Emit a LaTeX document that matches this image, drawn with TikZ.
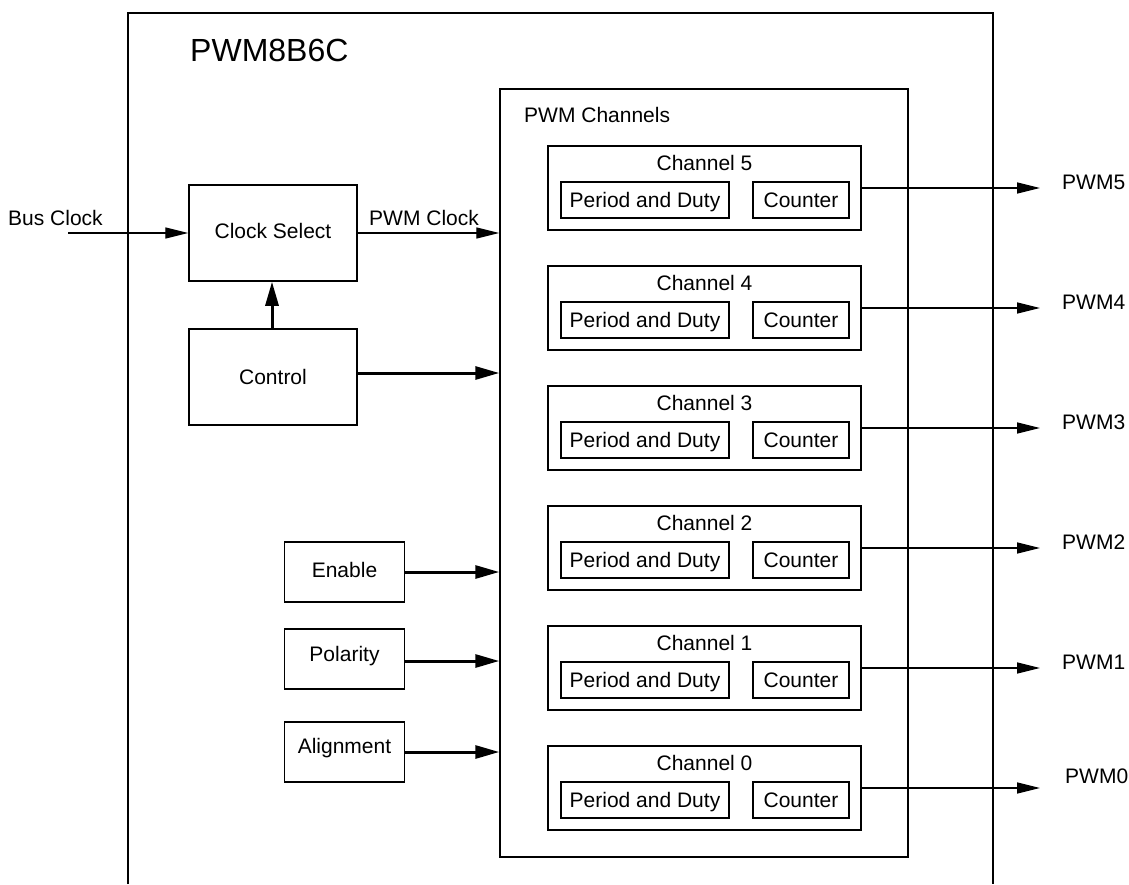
\documentclass[tikz,border=0pt]{standalone}
\usepackage{fontspec}
\setmainfont{Liberation Sans}
\usetikzlibrary{arrows.meta}
\tikzset{
  txt/.style={font=\fontsize{21}{25}\selectfont, inner sep=0pt, text height=15pt, text depth=0pt},
  bigtxt/.style={font=\fontsize{32}{36}\selectfont, inner sep=0pt, text height=23pt, text depth=0pt},
  blk/.style={draw, line width=1.5pt, inner sep=0pt, font=\fontsize{21}{25}\selectfont, text height=15pt, text depth=0pt},
  thin arrow/.style={line width=1.4pt, -{Triangle[length=23pt,width=11pt]}},
  thick arrow/.style={line width=3pt, -{Triangle[length=24pt,width=13pt]}},
}
\begin{document}
\begin{tikzpicture}[x=1pt,y=-1pt]
\useasboundingbox (0,0) rectangle (1129,884);
\fill[white] (0,0) rectangle (1129,884);
% outer module box (bottom edge outside the picture)
\draw[line width=1.5pt] (128,884) -- (128,13) -- (993,13) -- (993,884);
\node[bigtxt, anchor=west] (title) at (190,50) {PWM8B6C};

% PWM channels container
\node[blk, minimum width=408pt, minimum height=768pt] (pch) at (704,473) {};
\node[txt, anchor=west] (pchlbl) at (524,114.5) {PWM Channels};

% channels
\foreach \i/\t in {5/146,4/266,3/386,2/506,1/626,0/746}{
  \node[blk, minimum width=313pt, minimum height=84pt] (ch\i) at (704.5,\t+42) {};
  \node[txt] (chl\i) at (704.5,\t+17) {Channel \i};
  \node[blk, minimum width=168pt, minimum height=36pt] (pd\i) at (645,\t+54) {Period and Duty};
  \node[blk, minimum width=96pt, minimum height=36pt] (cnt\i) at (801,\t+54) {Counter};
  \coordinate (out\i) at (1040,\t+42);
  \draw[thin arrow] (ch\i.east) -- (out\i);
}
\node[txt, anchor=west] (p5) at (1062,182) {PWM5};
\node[txt, anchor=west] (p4) at (1062,302) {PWM4};
\node[txt, anchor=west] (p3) at (1062,422) {PWM3};
\node[txt, anchor=west] (p2) at (1062,542) {PWM2};
\node[txt, anchor=west] (p1) at (1062,662) {PWM1};
\node[txt, anchor=west] (p0) at (1065,776) {PWM0};

% clock select and control
\node[blk, minimum width=168pt, minimum height=96pt] (cs) at (273,233) {};
\node[txt] (cslbl) at (273,230.5) {Clock Select};
\node[blk, minimum width=168pt, minimum height=96pt] (ctrl) at (273,377) {Control};
\coordinate (bus) at (68,233);
\node[txt, anchor=west] (buslbl) at (8,217.5) {Bus Clock};
\node[txt, anchor=west] (pwmclk) at (369,217.5) {PWM Clock};
\draw[thin arrow] (bus) -- (cs.west);
\draw[thin arrow] (cs.east) -- (pch.west |- cs.east);
\draw[thick arrow] (ctrl.north -| 272,0) -- (cs.south -| 272,0);
\draw[thick arrow] (ctrl.east |- 0,373) -- (pch.west |- 0,373);

% enable, polarity, alignment
\node[blk, minimum width=120pt, minimum height=60pt] (en) at (344.5,572) {};
\node[txt] (enlbl) at (344.5,570) {Enable};
\node[blk, minimum width=120pt, minimum height=60pt] (pol) at (344.5,659) {};
\node[txt] (pollbl) at (344.5,653.5) {Polarity};
\node[blk, minimum width=120pt, minimum height=60pt] (al) at (344.5,752) {};
\node[txt] (allbl) at (344.5,745.5) {Alignment};
\draw[thick arrow] (en.east) -- (pch.west |- en.east);
\draw[thick arrow] (pol.east |- 0,661) -- (pch.west |- 0,661);
\draw[thick arrow] (al.east) -- (pch.west |- al.east);
\end{tikzpicture}
\end{document}
